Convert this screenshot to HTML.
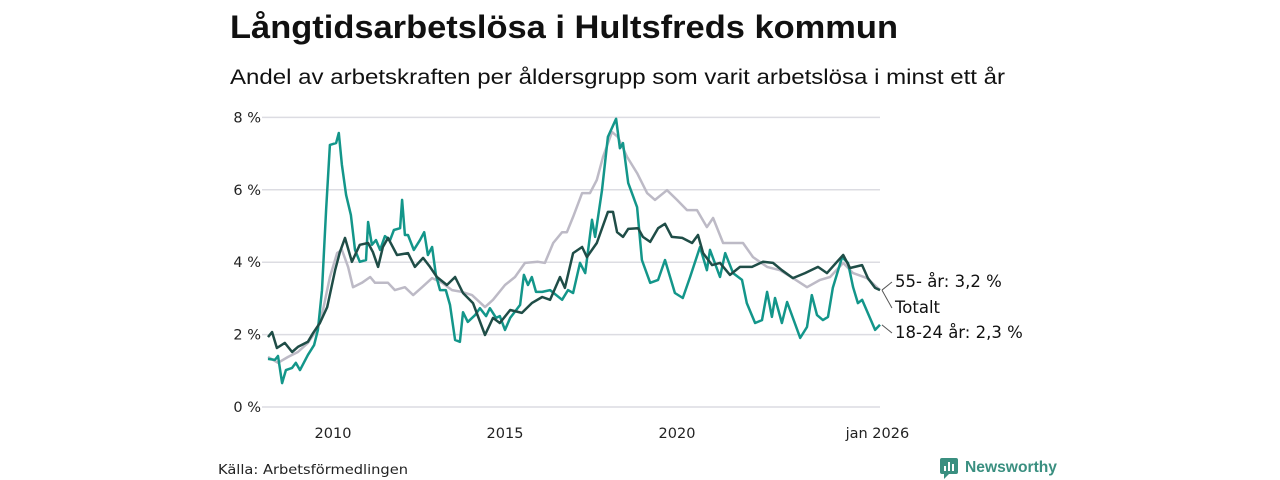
<!DOCTYPE html>
<html><head><meta charset="utf-8"><style>
body{margin:0;background:#fff;}
svg{display:block;font-family:"Liberation Sans","DejaVu Sans",sans-serif;}
.dv{font-family:"DejaVu Sans","Liberation Sans",sans-serif;}
</style></head><body>
<svg id="chart" width="1280" height="480" viewBox="0 0 1280 480">
<text x="230" y="38" font-size="32" font-weight="bold" fill="#111" textLength="668" lengthAdjust="spacingAndGlyphs">Långtidsarbetslösa i Hultsfreds kommun</text>
<text x="230" y="84" font-size="21" fill="#111" textLength="775" lengthAdjust="spacingAndGlyphs">Andel av arbetskraften per åldersgrupp som varit arbetslösa i minst ett år</text>
<g id="grid" class="dv"></g>
<g id="series"></g>
<g id="labels" class="dv"></g>
<text class="dv" x="218" y="474" font-size="13.5" fill="#222" textLength="190" lengthAdjust="spacingAndGlyphs">Källa: Arbetsförmedlingen</text>
<g>
<rect x="940" y="458" width="18" height="16" rx="2" fill="#3a8f80"/>
<rect x="944" y="466" width="2" height="5" fill="#fff"/><rect x="948" y="462" width="2" height="9" fill="#fff"/><rect x="952" y="464" width="2" height="7" fill="#fff"/>
<path d="M944 474 L944 479 L949 474 Z" fill="#3a8f80"/>
<text x="965" y="472" font-size="16" font-weight="bold" fill="#3a8f80" textLength="92" lengthAdjust="spacingAndGlyphs">Newsworthy</text>
</g>
</svg>
<script>
const yTicks=[0,2,4,6,8];
const xTickYears=[2010,2015,2020,2026];
const xTickLabels=["2010","2015","2020","jan 2026"];
const teenYears=[2008.11,2008.31,2008.40,2008.52,2008.63,2008.81,2008.92,2009.04,2009.27,2009.45,2009.56,2009.68,2009.80,2009.91,2010.09,2010.17,2010.26,2010.38,2010.52,2010.64,2010.78,2010.96,2011.02,2011.13,2011.25,2011.37,2011.51,2011.66,2011.77,2011.95,2012.01,2012.09,2012.18,2012.35,2012.53,2012.65,2012.76,2012.88,2012.99,2013.11,2013.28,2013.40,2013.55,2013.69,2013.78,2013.92,2014.13,2014.27,2014.45,2014.56,2014.74,2014.85,2015.00,2015.15,2015.44,2015.55,2015.67,2015.78,2015.90,2016.08,2016.31,2016.66,2016.83,2016.98,2017.18,2017.33,2017.53,2017.62,2017.82,2017.99,2018.23,2018.34,2018.43,2018.58,2018.84,2018.98,2019.22,2019.45,2019.65,2019.94,2020.17,2020.38,2020.67,2020.87,2020.96,2021.25,2021.40,2021.63,2021.89,2022.03,2022.27,2022.47,2022.62,2022.76,2022.85,2023.05,2023.20,2023.58,2023.78,2023.92,2024.07,2024.24,2024.39,2024.53,2024.80,2024.97,2025.12,2025.26,2025.38,2025.76,2025.90];
const teenValues=[1.33,1.30,1.41,0.66,1.02,1.08,1.22,1.02,1.44,1.71,2.13,3.23,5.44,7.24,7.29,7.57,6.69,5.86,5.30,4.34,4.01,4.06,5.11,4.48,4.61,4.34,4.72,4.61,4.89,4.94,5.72,4.75,4.75,4.34,4.61,4.83,4.20,4.42,3.65,3.23,3.23,2.82,1.85,1.80,2.62,2.35,2.54,2.73,2.51,2.73,2.46,2.51,2.13,2.46,2.82,3.65,3.37,3.59,3.18,3.18,3.23,2.96,3.23,3.15,3.98,3.70,5.17,4.70,5.99,7.46,7.96,7.15,7.29,6.19,5.52,4.06,3.43,3.51,4.06,3.15,3.01,3.59,4.42,3.78,4.34,3.59,4.25,3.70,3.51,2.87,2.32,2.40,3.18,2.49,3.01,2.32,2.90,1.91,2.21,3.09,2.54,2.40,2.49,3.29,4.14,3.98,3.31,2.87,2.96,2.13,2.27];
const totalYears=[2008.11,2008.23,2008.37,2008.60,2008.81,2008.98,2009.27,2009.42,2009.62,2009.83,2010.06,2010.20,2010.35,2010.55,2010.78,2011.02,2011.16,2011.31,2011.45,2011.60,2011.86,2012.18,2012.38,2012.62,2012.82,2013.02,2013.31,2013.55,2013.78,2014.07,2014.42,2014.65,2014.85,2015.15,2015.49,2015.78,2016.08,2016.31,2016.60,2016.74,2016.98,2017.24,2017.38,2017.67,2017.99,2018.14,2018.26,2018.43,2018.58,2018.87,2019.01,2019.22,2019.45,2019.65,2019.85,2020.15,2020.44,2020.61,2020.76,2021.02,2021.25,2021.54,2021.83,2022.18,2022.50,2022.79,2023.05,2023.37,2023.72,2024.10,2024.36,2024.65,2024.83,2025.03,2025.38,2025.55,2025.76,2025.90];
const totalValues=[1.93,2.07,1.63,1.77,1.52,1.66,1.80,2.04,2.32,2.76,3.78,4.28,4.67,4.01,4.48,4.53,4.28,3.87,4.42,4.67,4.20,4.25,3.87,4.12,3.87,3.59,3.37,3.59,3.15,2.87,1.99,2.46,2.32,2.68,2.60,2.87,3.04,2.96,3.59,3.29,4.25,4.42,4.14,4.53,5.39,5.39,4.83,4.70,4.92,4.94,4.70,4.56,4.94,5.06,4.70,4.67,4.53,4.75,4.25,3.92,3.98,3.65,3.87,3.87,4.01,3.98,3.78,3.56,3.70,3.87,3.70,4.01,4.20,3.84,3.92,3.56,3.29,3.23];
const seniorYears=[2008.11,2008.40,2008.69,2008.98,2009.27,2009.53,2009.71,2009.91,2010.12,2010.26,2010.44,2010.58,2010.84,2011.08,2011.22,2011.60,2011.80,2012.09,2012.33,2012.59,2012.88,2013.17,2013.46,2013.75,2014.04,2014.42,2014.65,2015.00,2015.29,2015.58,2015.96,2016.16,2016.40,2016.66,2016.80,2016.98,2017.24,2017.47,2017.67,2017.85,2018.11,2018.28,2018.55,2018.84,2019.13,2019.36,2019.71,2020.00,2020.29,2020.58,2020.87,2021.05,2021.34,2021.63,2021.92,2022.21,2022.62,2022.99,2023.37,2023.78,2024.16,2024.45,2024.83,2025.12,2025.52,2025.90];
const seniorValues=[1.38,1.22,1.38,1.52,1.77,2.13,2.68,3.59,4.25,4.34,3.87,3.31,3.43,3.59,3.43,3.43,3.23,3.31,3.09,3.31,3.56,3.43,3.23,3.18,3.09,2.76,2.96,3.37,3.59,3.98,4.01,3.98,4.53,4.83,4.83,5.25,5.91,5.91,6.27,6.91,7.60,7.46,6.91,6.46,5.91,5.72,5.99,5.72,5.44,5.44,4.97,5.22,4.53,4.53,4.53,4.14,3.87,3.78,3.56,3.31,3.51,3.59,3.98,3.70,3.56,3.23];

const NS='http://www.w3.org/2000/svg';
const X0=262,X1=880;
function xs(yr){return 333+(yr-2010)*34.4;}
function ys(v){return 407-v*36.2;}
function mk(tag,attrs,parent){const e=document.createElementNS(NS,tag);for(const k in attrs)e.setAttribute(k,attrs[k]);parent.appendChild(e);return e;}
const grid=document.getElementById('grid');
yTicks.forEach(t=>{
  const l=mk('line',{x1:X0,x2:X1,y1:ys(t),y2:ys(t),stroke:'#dcdce2','stroke-width':1.5},grid);
  
  
  const tx=mk('text',{x:X0-1,y:ys(t)+5,'font-size':14.5,'text-anchor':'end',fill:'#222'},grid);
  tx.textContent=t+' %';
  
  
});
xTickYears.forEach((yr,i)=>{
  const tx=mk('text',{x:xs(yr)-(i===3?6:0),y:438,'font-size':14.5,'text-anchor':'middle',fill:'#222'},grid);
  tx.textContent=xTickLabels[i];
  
  
});
const ser=document.getElementById('series');
function line(years,vals,color,name){
  const d=years.map((yr,i)=>(i?'L':'M')+xs(yr).toFixed(1)+' '+ys(vals[i]).toFixed(1)).join(' ');
  const p=mk('path',{d:d,fill:'none',stroke:color,'stroke-width':2.5,'stroke-linejoin':'round'},ser);
  
  
}
line(seniorYears,seniorValues,'#bdbac6','line-55-plus');
line(teenYears,teenValues,'#13968a','line-18-24');
line(totalYears,totalValues,'#1f4d47','line-total');
const lab=document.getElementById('labels');
function label(yv,ty,txt,name){
  const ex=xs(2025.9);
  const c=mk('line',{x1:ex+2,y1:ys(yv),x2:ex+12,y2:ty-5,stroke:'#555','stroke-width':1},lab);
  
  
  const t=mk('text',{x:895,y:ty,'font-size':16.5,fill:'#111'},lab);
  t.textContent=txt;
  
  
}
label(seniorValues[seniorValues.length-1],287,'55- år: 3,2 %','label-55-plus');
label(totalValues[totalValues.length-1],313,'Totalt','label-total');
label(teenValues[teenValues.length-1],338,'18-24 år: 2,3 %','label-18-24');
</script>
</body></html>
